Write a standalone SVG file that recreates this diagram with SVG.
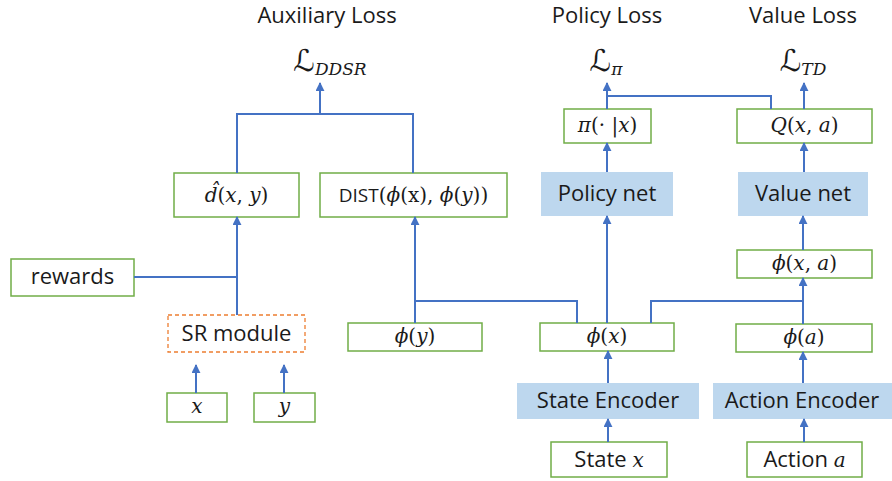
<svg xmlns="http://www.w3.org/2000/svg" width="892" height="481" viewBox="0 0 892 481">
  <defs>
    <marker id="arrow" viewBox="0 0 10 10" refX="9" refY="5" markerWidth="9" markerHeight="9" markerUnits="userSpaceOnUse" orient="auto">
      <path d="M0,0 L10,5 L0,10 z" fill="#4472C4"/>
    </marker>
    <style>
      .box { fill: #ffffff; stroke: #70AD47; stroke-width: 1.5; }
      .net { fill: #BDD7EE; stroke: none; }
      .sr { fill: #ffffff; stroke: #ED7D31; stroke-width: 1.3; stroke-dasharray: 4 3; }
      .title { font-family: "Open Sans", "Noto Sans", "DejaVu Sans", sans-serif; font-size: 22px; fill: #1a1a1a; text-anchor: middle; }
      .lbl { font-family: "Open Sans", "Noto Sans", "DejaVu Sans", sans-serif; font-size: 22px; fill: #1a1a1a; text-anchor: middle; }
      .math { font-family: "DejaVu Serif", "Liberation Serif", serif; font-size: 20px; fill: #1a1a1a; text-anchor: middle; }
      .it { font-style: italic; }
      .script { font-family: "DejaVu Sans", sans-serif; font-style: italic; font-size: 30px; }
      .sub { font-size: 17px; font-style: italic; }
      .link { fill: none; stroke: #4472C4; stroke-width: 2; }
      .arr { fill: none; stroke: #4472C4; stroke-width: 2; marker-end: url(#arrow); }
    </style>
  </defs>

  <!-- headings -->
  <text class="title" x="327" y="23">Auxiliary Loss</text>
  <text class="title" x="607" y="23">Policy Loss</text>
  <text class="title" x="803" y="23">Value Loss</text>

  <!-- loss symbols -->
  <g id="loss-ddsr">
    <text class="math" x="330" y="71"><tspan class="script">ℒ</tspan><tspan class="sub" dy="4">DDSR</tspan></text>
  </g>
  <g id="loss-pi">
    <text class="math" x="606" y="71"><tspan class="script">ℒ</tspan><tspan class="sub" dy="4">π</tspan></text>
  </g>
  <g id="loss-td">
    <text class="math" x="803" y="71"><tspan class="script">ℒ</tspan><tspan class="sub" dy="4">TD</tspan></text>
  </g>

  <!-- nodes -->
  <g id="dhat">
    <rect class="box" x="174" y="173" width="125" height="44"/>
    <text class="math" x="236.5" y="202"><tspan class="it">d̂</tspan>(<tspan class="it">x</tspan>, <tspan class="it">y</tspan>)</text>
  </g>
  <g id="dist">
    <rect class="box" x="320" y="173" width="187" height="44"/>
    <text class="math" x="413.5" y="202"><tspan font-family="Open Sans, sans-serif" font-size="19">DIST</tspan>(<tspan class="it">ϕ</tspan>(x), <tspan class="it">ϕ</tspan>(<tspan class="it">y</tspan>))</text>
  </g>
  <g id="pi">
    <rect class="box" x="564" y="109" width="87" height="34"/>
    <text class="math" x="607.5" y="132"><tspan class="it">π</tspan>(· |<tspan class="it">x</tspan>)</text>
  </g>
  <g id="q">
    <rect class="box" x="737" y="109" width="135" height="34"/>
    <text class="math" x="804.5" y="132"><tspan class="it">Q</tspan>(<tspan class="it">x</tspan>, <tspan class="it">a</tspan>)</text>
  </g>
  <g id="policy-net">
    <rect class="net" x="541" y="172" width="132" height="44"/>
    <text class="lbl" x="607" y="201">Policy net</text>
  </g>
  <g id="value-net">
    <rect class="net" x="738" y="172" width="130" height="44"/>
    <text class="lbl" x="803" y="201">Value net</text>
  </g>
  <g id="rewards">
    <rect class="box" x="11" y="259" width="123" height="37"/>
    <text class="lbl" x="72.5" y="284">rewards</text>
  </g>
  <g id="phi-xa">
    <rect class="box" x="737" y="250" width="135" height="28"/>
    <text class="math" x="804.5" y="270"><tspan class="it">ϕ</tspan>(<tspan class="it">x</tspan>, <tspan class="it">a</tspan>)</text>
  </g>
  <g id="sr-module">
    <rect class="sr" x="168" y="315" width="137" height="37"/>
    <text class="lbl" x="236.5" y="341">SR module</text>
  </g>
  <g id="phi-y">
    <rect class="box" x="348" y="323" width="134" height="28"/>
    <text class="math" x="415" y="343"><tspan class="it">ϕ</tspan>(<tspan class="it">y</tspan>)</text>
  </g>
  <g id="phi-x">
    <rect class="box" x="540" y="323" width="134" height="28"/>
    <text class="math" x="607" y="343"><tspan class="it">ϕ</tspan>(<tspan class="it">x</tspan>)</text>
  </g>
  <g id="phi-a">
    <rect class="box" x="736" y="324" width="136" height="28"/>
    <text class="math" x="804" y="344"><tspan class="it">ϕ</tspan>(<tspan class="it">a</tspan>)</text>
  </g>
  <g id="state-encoder">
    <rect class="net" x="517" y="383" width="182" height="36"/>
    <text class="lbl" x="608" y="408">State Encoder</text>
  </g>
  <g id="action-encoder">
    <rect class="net" x="713" y="383" width="179" height="36"/>
    <text class="lbl" x="802" y="408">Action Encoder</text>
  </g>
  <g id="x-in">
    <rect class="box" x="167" y="393" width="60" height="29"/>
    <text class="math" x="197" y="413"><tspan class="it">x</tspan></text>
  </g>
  <g id="y-in">
    <rect class="box" x="254" y="393" width="61" height="29"/>
    <text class="math" x="284.5" y="413"><tspan class="it">y</tspan></text>
  </g>
  <g id="state-x">
    <rect class="box" x="551" y="442" width="116" height="35"/>
    <text class="lbl" x="609" y="467">State <tspan class="it" font-family="DejaVu Serif, serif" font-size="20">x</tspan></text>
  </g>
  <g id="action-a">
    <rect class="box" x="747" y="442" width="115" height="35"/>
    <text class="lbl" x="804.5" y="467">Action <tspan class="it" font-family="DejaVu Serif, serif" font-size="20">a</tspan></text>
  </g>

  <!-- connectors -->
  <g id="connectors">
    <!-- auxiliary loss branch -->
    <polyline class="link" points="237,173 237,114 413,114 413,173"/>
    <line class="arr" x1="320" y1="114" x2="320" y2="83"/>
    <!-- rewards and SR module into d-hat -->
    <line class="link" x1="134" y1="277" x2="237" y2="277"/>
    <line class="arr" x1="237" y1="315" x2="237" y2="217"/>
    <line class="arr" x1="196" y1="393" x2="196" y2="365"/>
    <line class="arr" x1="284" y1="393" x2="284" y2="365"/>
    <!-- phi(y) and phi(x) into DIST -->
    <line class="arr" x1="415" y1="323" x2="415" y2="217"/>
    <polyline class="link" points="415,301 577,301 577,323"/>
    <!-- policy path -->
    <line class="arr" x1="607" y1="323" x2="607" y2="216"/>
    <line class="arr" x1="607" y1="172" x2="607" y2="143"/>
    <line class="arr" x1="607" y1="109" x2="607" y2="83"/>
    <polyline class="link" points="771,109 771,96 607,96"/>
    <!-- value path -->
    <polyline class="link" points="651,323 651,301 803,301"/>
    <line class="arr" x1="803" y1="324" x2="803" y2="278"/>
    <line class="arr" x1="803" y1="250" x2="803" y2="216"/>
    <line class="arr" x1="804" y1="172" x2="804" y2="143"/>
    <line class="arr" x1="804" y1="109" x2="804" y2="83"/>
    <!-- encoders -->
    <line class="arr" x1="608" y1="383" x2="608" y2="351"/>
    <line class="arr" x1="803" y1="383" x2="803" y2="352"/>
    <line class="arr" x1="608" y1="442" x2="608" y2="419"/>
    <line class="arr" x1="804" y1="442" x2="804" y2="419"/>
  </g>
</svg>
